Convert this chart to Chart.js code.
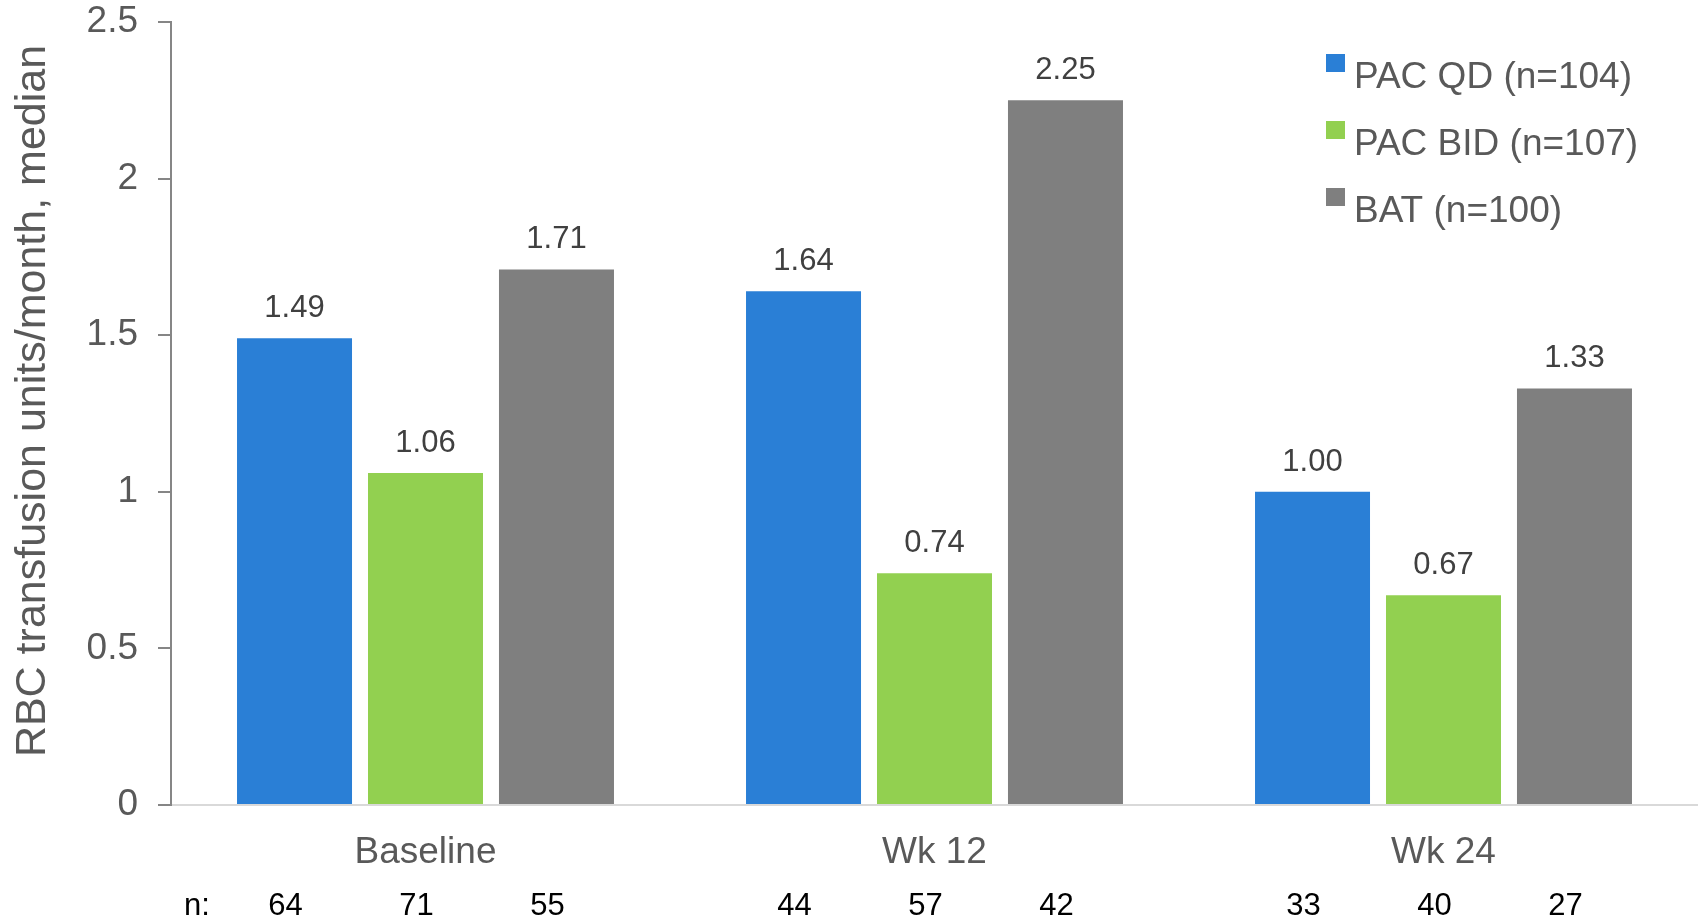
<!DOCTYPE html>
<html><head><meta charset="utf-8">
<script src="https://cdn.jsdelivr.net/npm/chart.js@4"></script>
<style>html,body{margin:0;padding:0;background:#fff}#wrap{width:1698px;height:921px}</style>
</head><body><div id="wrap"><canvas id="c" width="1698" height="921"></canvas></div>
<script>
const categories = ['Baseline', 'Wk 12', 'Wk 24'];
const seriesNames = ['PAC QD (n=104)', 'PAC BID (n=107)', 'BAT (n=100)'];
const pacQD = [1.49, 1.64, 1.00];
const pacBID = [1.06, 0.74, 0.67];
const bat = [1.71, 2.25, 1.33];
const nQD = [64, 44, 33];
const nBID = [71, 57, 40];
const nBAT = [55, 42, 27];
const yTicks = [0, 0.5, 1, 1.5, 2, 2.5];
const yTitle = 'RBC transfusion units/month, median';
const colors = ['#2A7FD6', '#92D050', '#7F7F7F'];
const FONT = '"Liberation Sans", Arial, sans-serif';

const nCounts = [nQD, nBID, nBAT];

const extras = {
  id: 'extras',
  afterDatasetsDraw(chart) {
    const ctx = chart.ctx;
    ctx.save();
    // data labels
    ctx.font = '31px ' + FONT;
    ctx.fillStyle = '#404040';
    ctx.textAlign = 'center';
    ctx.textBaseline = 'alphabetic';
    chart.data.datasets.forEach((ds, i) => {
      chart.getDatasetMeta(i).data.forEach((bar, j) => {
        ctx.fillText(ds.data[j].toFixed(2), bar.x, bar.y - 21);
      });
    });
    // n row
    ctx.fillStyle = '#000';
    ctx.textBaseline = 'middle';
    const nY = 906;
    ctx.fillText('n:', 197, nY);
    nCounts.forEach((arr, i) => {
      chart.getDatasetMeta(i).data.forEach((bar, j) => {
        ctx.fillText(String(arr[j]), bar.x - 9, nY);
      });
    });
    // legend
    ctx.font = '37px ' + FONT;
    ctx.textAlign = 'left';
    ctx.textBaseline = 'alphabetic';
    chart.data.datasets.forEach((ds, i) => {
      const base = 88 + i * 67;
      ctx.fillStyle = ds.backgroundColor;
      ctx.fillRect(1326, base - 34, 19, 18);
      ctx.fillStyle = '#595959';
      ctx.fillText(ds.label, 1354, base);
    });
    // y-axis title
    ctx.font = '43px ' + FONT;
    ctx.fillStyle = '#595959';
    ctx.textAlign = 'center';
    ctx.textBaseline = 'middle';
    ctx.translate(33, 401);
    ctx.rotate(-Math.PI / 2);
    ctx.fillText(yTitle, 0, 0);
    ctx.restore();
  }
};

new Chart(document.getElementById('c'), {
  type: 'bar',
  data: {
    labels: categories,
    datasets: [
      { label: seriesNames[0], data: pacQD, backgroundColor: colors[0] },
      { label: seriesNames[1], data: pacBID, backgroundColor: colors[1] },
      { label: seriesNames[2], data: bat, backgroundColor: colors[2] }
    ]
  },
  options: {
    responsive: false,
    animation: false,
    devicePixelRatio: 1,
    layout: { padding: { top: 22, right: 0, bottom: 0, left: 0 } },
    datasets: { bar: { categoryPercentage: 0.772, barPercentage: 0.878 } },
    plugins: { legend: { display: false }, tooltip: { enabled: false } },
    scales: {
      x: {
        grid: { display: false, drawTicks: false },
        border: { display: true, color: '#d9d9d9', width: 2 },
        ticks: { color: '#595959', font: { family: FONT, size: 37 }, padding: 26 },
        afterFit(s) { s.height = 116; s.paddingLeft = 0; s.paddingRight = 0; }
      },
      y: {
        min: 0, max: 2.5,
        afterBuildTicks(s) { s.ticks = yTicks.map(v => ({ value: v })); },
        grid: { drawOnChartArea: false, drawTicks: true, tickLength: 13, color: '#868686', lineWidth: 2 },
        border: { display: true, color: '#868686', width: 2 },
        ticks: { color: '#595959', font: { family: FONT, size: 37 }, padding: 20,
                 callback: v => String(v) },
        afterFit(s) { s.width = 171; s.paddingTop = 0; s.paddingBottom = 0; }
      }
    }
  },
  plugins: [extras]
});
</script></body></html>
